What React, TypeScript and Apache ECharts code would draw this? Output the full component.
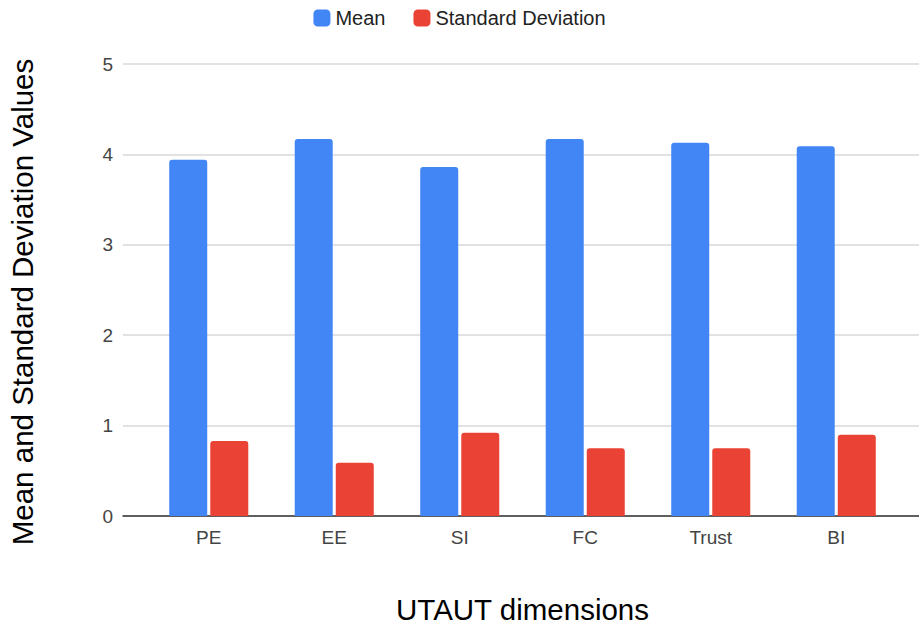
import React, { useEffect, useRef } from "react";
import * as echarts from "echarts";

const categories = ["PE", "EE", "SI", "FC", "Trust", "BI"];
const meanValues = [3.94, 4.17, 3.86, 4.17, 4.13, 4.09];
const sdValues = [0.83, 0.59, 0.92, 0.75, 0.75, 0.9];
const yTicks = [0, 1, 2, 3, 4, 5];

const FONT = "Arial, 'Liberation Sans', sans-serif";

export default function App() {
  const ref = useRef<HTMLDivElement>(null);
  useEffect(() => {
    if (!ref.current) return;
    const chart = echarts.init(ref.current, null, { renderer: "svg" });
    chart.setOption({
      animation: false,
      backgroundColor: "#ffffff",
      textStyle: { fontFamily: FONT },
      legend: {
        top: 3,
        left: "center",
        itemWidth: 17,
        itemHeight: 17,
        itemGap: 28,
        icon: "roundRect",
        textStyle: { fontSize: 20, color: "#222", fontFamily: FONT },
        data: ["Mean", "Standard Deviation"],
      },
      grid: [
        { left: 123, right: 0, top: 64, bottom: 111, outerBoundsMode: "none", containLabel: false },
        { left: 146, right: 20, top: 64, bottom: 111, outerBoundsMode: "none", containLabel: false },
      ],
      xAxis: [
        {
          type: "category",
          gridIndex: 0,
          data: [""],
          axisLine: { show: true, lineStyle: { color: "#333", width: 1.5 } },
          axisTick: { show: false },
          axisLabel: { show: false },
        },
        {
          type: "category",
          gridIndex: 1,
          data: categories,
          axisLine: { show: false },
          axisTick: { show: false },
          axisLabel: { fontSize: 19, color: "#444", margin: 12, fontFamily: FONT },
          name: "UTAUT dimensions",
          nameLocation: "middle",
          nameGap: 78,
          nameTextStyle: { fontSize: 29.5, color: "#000", fontFamily: FONT },
        },
      ],
      yAxis: [
        {
          type: "value",
          gridIndex: 0,
          min: yTicks[0],
          max: yTicks[yTicks.length - 1],
          interval: 1,
          axisLine: { show: false },
          axisTick: { show: false },
          axisLabel: { fontSize: 19, color: "#444", margin: 10, fontFamily: FONT },
          splitLine: { lineStyle: { color: "#d9d9d9", width: 1.5 } },
        },
        {
          type: "value",
          gridIndex: 1,
          min: yTicks[0],
          max: yTicks[yTicks.length - 1],
          interval: 1,
          show: false,
          splitLine: { show: false },
        },
      ],
      series: [
        {
          name: "Mean",
          type: "bar",
          xAxisIndex: 1,
          yAxisIndex: 1,
          data: meanValues,
          barWidth: 38,
          barGap: "8%",
          itemStyle: { color: "#4285F4", borderRadius: [3, 3, 0, 0] },
        },
        {
          name: "Standard Deviation",
          type: "bar",
          xAxisIndex: 1,
          yAxisIndex: 1,
          data: sdValues,
          barWidth: 38,
          barGap: "8%",
          itemStyle: { color: "#EA4335", borderRadius: [3, 3, 0, 0] },
        },
      ],
      graphic: [
        {
          type: "text",
          x: 22,
          y: 302,
          rotation: Math.PI / 2,
          style: {
            text: "Mean and Standard Deviation Values",
            fontSize: 29.5,
            fill: "#000",
            fontFamily: FONT,
            textAlign: "center",
            textVerticalAlign: "middle",
          },
        },
      ],
    });
    return () => chart.dispose();
  }, []);
  return (
    <div
      ref={ref}
      style={{ position: "fixed", left: 0, top: 0, width: 919, height: 627 }}
    />
  );
}
